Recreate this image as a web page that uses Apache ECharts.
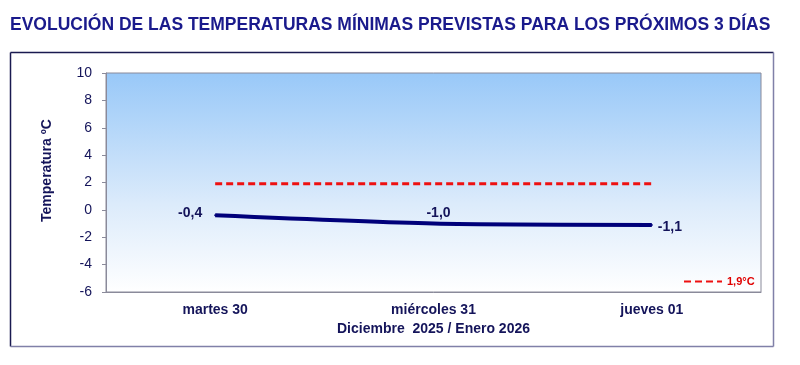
<!DOCTYPE html>
<html>
<head>
<meta charset="utf-8">
<script src="https://cdn.jsdelivr.net/npm/echarts@6/dist/echarts.min.js"></script>
<style>
html,body{margin:0;padding:0;background:#fff;}
#c{width:800px;height:365px;}
</style>
</head>
<body>
<div id="c"></div>
<script>
var categories = ['martes 30', 'miércoles 31', 'jueves 01'];
var minTemps = [-0.4, -1.0, -1.1];
var thresholdValue = 1.9;
var thresholdName = '1,9°C';
var yTicks = {min: -6, max: 10, interval: 2};
var titleText = 'EVOLUCIÓN DE LAS TEMPERATURAS MÍNIMAS PREVISTAS PARA LOS PRÓXIMOS 3 DÍAS';
var yName = 'Temperatura ºC';
var xName = 'Diciembre  2025 / Enero 2026';

var navy = '#14145a';
var labelPos = ['left', 'top', 'right'];
var labelOffset = [[-7, -2], [5, 3], [0, 2]];
var fmt = function (v) { return v.toFixed(1).replace('.', ','); };
var ff = '"Liberation Sans", Arial, sans-serif';

var chart = echarts.init(document.getElementById('c'), null, {renderer: 'canvas'});
chart.setOption({
  backgroundColor: '#ffffff',
  animation: false,
  title: {
    text: titleText,
    left: 10,
    top: 16,
    padding: 0,
    textStyle: {fontFamily: ff, fontWeight: 'bold', fontSize: 17.5, color: '#1a1a8c'}
  },
  graphic: [
    {type: 'line', shape: {x1: 10.5, y1: 52.5, x2: 773.5, y2: 52.5}, style: {stroke: '#1a1a50', lineWidth: 1.5}, silent: true},
    {type: 'line', shape: {x1: 10.5, y1: 52.5, x2: 10.5, y2: 346.5}, style: {stroke: '#1a1a50', lineWidth: 1.5}, silent: true},
    {type: 'line', shape: {x1: 773.5, y1: 52.5, x2: 773.5, y2: 346.5}, style: {stroke: '#8080a8', lineWidth: 1.5}, silent: true},
    {type: 'line', shape: {x1: 10.5, y1: 346.5, x2: 773.5, y2: 346.5}, style: {stroke: '#8080a8', lineWidth: 1.5}, silent: true}
  ],
  legend: {
    show: true,
    left: 678,
    top: 271,
    itemWidth: 38,
    itemHeight: 10,
    itemGap: 4,
    itemStyle: {opacity: 0},
    data: [{name: thresholdName}],
    textStyle: {color: '#e00000', fontWeight: 'bold', fontSize: 11, fontFamily: ff}
  },
  grid: {
    left: 106, top: 73, right: 39, bottom: 73,
    show: true,
    borderColor: '#8a8a9a',
    borderWidth: 1,
    backgroundColor: new echarts.graphic.LinearGradient(0, 0, 0, 1, [
      {offset: 0, color: '#98c8f8'},
      {offset: 0.6, color: '#dcebfb'},
      {offset: 1, color: '#ffffff'}
    ])
  },
  xAxis: {
    type: 'category',
    data: categories,
    boundaryGap: true,
    name: xName,
    nameLocation: 'middle',
    nameGap: 28,
    nameTextStyle: {color: navy, fontWeight: 'bold', fontSize: 14, fontFamily: ff},
    axisLine: {onZero: false, lineStyle: {color: '#8a8a9a'}},
    axisTick: {show: false},
    axisLabel: {color: navy, fontWeight: 'bold', fontSize: 14, margin: 11, fontFamily: ff},
    splitLine: {show: false}
  },
  yAxis: {
    type: 'value',
    min: yTicks.min, max: yTicks.max, interval: yTicks.interval,
    name: yName,
    nameLocation: 'middle',
    nameGap: 52,
    nameTextStyle: {color: navy, fontWeight: 'bold', fontSize: 14, fontFamily: ff, padding: [0, 0, 0, 24]},
    axisLine: {show: true, lineStyle: {color: '#8a8a9a'}},
    axisTick: {show: true, length: 4, lineStyle: {color: '#8a8a9a'}},
    axisLabel: {color: navy, fontSize: 14, margin: 14, fontFamily: ff},
    splitLine: {show: false}
  },
  series: [
    {
      name: 'Temperatura mínima',
      type: 'line',
      smooth: 0.25,
      symbol: 'circle',
      symbolSize: 2,
      showSymbol: true,
      itemStyle: {color: '#00007a'},
      lineStyle: {color: '#00007a', width: 4},
      data: minTemps.map(function (v, i) {
        return {
          value: v,
          label: {
            show: true,
            position: labelPos[i],
            distance: 5,
            offset: labelOffset[i],
            formatter: function () { return fmt(v); },
            color: navy, fontWeight: 'bold', fontSize: 14,
            fontFamily: ff
          }
        };
      }),
      z: 3
    },
    {
      name: thresholdName,
      type: 'line',
      symbol: 'none',
      lineStyle: {color: '#ee1111', width: 3, type: [7, 4]},
      itemStyle: {color: '#ee1111'},
      data: categories.map(function () { return thresholdValue; }),
      z: 2
    }
  ]
});
</script>
</body>
</html>
